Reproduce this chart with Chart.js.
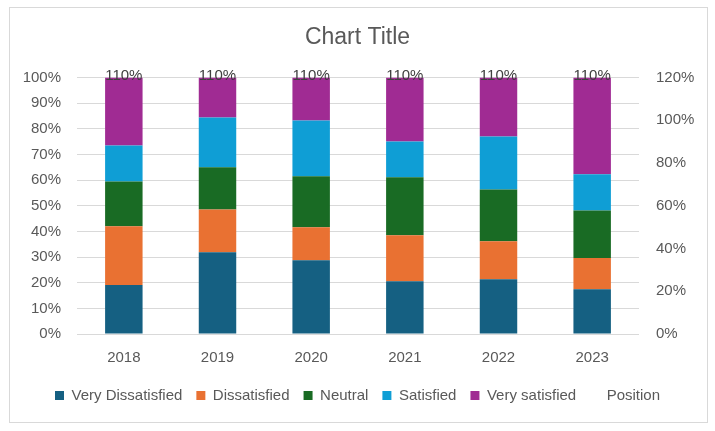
<!DOCTYPE html>
<html>
<head>
<meta charset="utf-8">
<script src="https://cdn.jsdelivr.net/npm/chart.js@4/dist/chart.umd.min.js"></script>
<style>
  html, body { margin: 0; padding: 0; background: #fff; }
  #wrap { position: relative; width: 715px; height: 431px; }
  #frame { position: absolute; left: 9px; top: 7px; width: 697px; height: 414px; border: 1px solid #D9D9D9; pointer-events: none; }
  canvas { position: absolute; left: 0; top: 0; }
</style>
</head>
<body>
<div id="wrap">
  <canvas id="c" width="715" height="431"></canvas>
  <div id="frame"></div>
</div>
<script>
const categories = ['2018', '2019', '2020', '2021', '2022', '2023'];
const veryDissatisfied = [0.191, 0.319, 0.288, 0.206, 0.214, 0.175];
const dissatisfied     = [0.229, 0.167, 0.128, 0.179, 0.148, 0.121];
const neutral          = [0.175, 0.164, 0.199, 0.226, 0.202, 0.186];
const satisfied        = [0.140, 0.194, 0.218, 0.140, 0.206, 0.141];
const verySatisfied    = [0.265, 0.156, 0.167, 0.249, 0.230, 0.377];
const position         = [1.1, 1.1, 1.1, 1.1, 1.1, 1.1];

const FONT = "'Liberation Sans', Arial, sans-serif";
const GRAY = '#595959';

const pct = v => Math.round(v * 100) + '%';

const positionLabels = {
  id: 'positionLabels',
  afterDatasetsDraw(chart) {
    const ctx = chart.ctx;
    const idx = chart.data.datasets.findIndex(d => d.label === 'Position');
    const meta = chart.getDatasetMeta(idx);
    const yTop = chart.scales.y.getPixelForValue(1);
    ctx.save();
    ctx.font = '15px ' + FONT;
    ctx.fillStyle = '#404040';
    ctx.textAlign = 'center';
    ctx.textBaseline = 'middle';
    meta.data.forEach((pt, i) => {
      ctx.fillText(pct(chart.data.datasets[idx].data[i]), pt.x, yTop - 2);
    });
    ctx.restore();
  }
};

new Chart(document.getElementById('c'), {
  data: {
    labels: categories,
    datasets: [
      { type: 'bar', label: 'Very Dissatisfied', data: veryDissatisfied, backgroundColor: '#156082', yAxisID: 'y' },
      { type: 'bar', label: 'Dissatisfied', data: dissatisfied, backgroundColor: '#E97132', yAxisID: 'y' },
      { type: 'bar', label: 'Neutral', data: neutral, backgroundColor: '#196B24', yAxisID: 'y' },
      { type: 'bar', label: 'Satisfied', data: satisfied, backgroundColor: '#0F9ED5', yAxisID: 'y' },
      { type: 'bar', label: 'Very satisfied', data: verySatisfied, backgroundColor: '#A02B93', yAxisID: 'y' },
      { type: 'line', label: 'Position', data: position, yAxisID: 'y2',
        borderColor: 'rgba(0,0,0,0)', backgroundColor: 'rgba(0,0,0,0)', pointRadius: 0, borderWidth: 0 }
    ]
  },
  options: {
    responsive: false,
    animation: false,
    datasets: { bar: { categoryPercentage: 1, barPercentage: 0.4 } },
    layout: { padding: { left: 0, right: 0, top: 12, bottom: 18 } },
    plugins: {
      tooltip: { enabled: false },
      title: {
        display: true, text: 'Chart Title', color: GRAY,
        font: { family: FONT, size: 23, weight: 'normal' },
        padding: { top: 12, bottom: 26 }
      },
      legend: {
        position: 'bottom',
        labels: {
          color: GRAY, boxWidth: 9, boxHeight: 9, padding: 14,
          font: { family: FONT, size: 15 }
        }
      }
    },
    scales: {
      x: {
        stacked: true,
        grid: { display: false },
        border: { display: false },
        ticks: { color: GRAY, font: { family: FONT, size: 15 }, padding: 7 }
      },
      y: {
        stacked: true, min: 0, max: 1, position: 'left',
        afterFit: s => { s.width = 77; },
        grid: { color: '#D9D9D9', drawTicks: false },
        border: { display: false },
        ticks: { stepSize: 0.1, callback: v => pct(v), color: GRAY, padding: 16, font: { family: FONT, size: 15 } }
      },
      y2: {
        stacked: false, min: 0, max: 1.2, position: 'right',
        afterFit: s => { s.width = 76; },
        grid: { display: false, drawTicks: false },
        border: { display: false },
        ticks: { stepSize: 0.2, callback: v => pct(v), color: GRAY, padding: 17, font: { family: FONT, size: 15 } }
      }
    }
  },
  plugins: [positionLabels]
});
</script>
</body>
</html>
